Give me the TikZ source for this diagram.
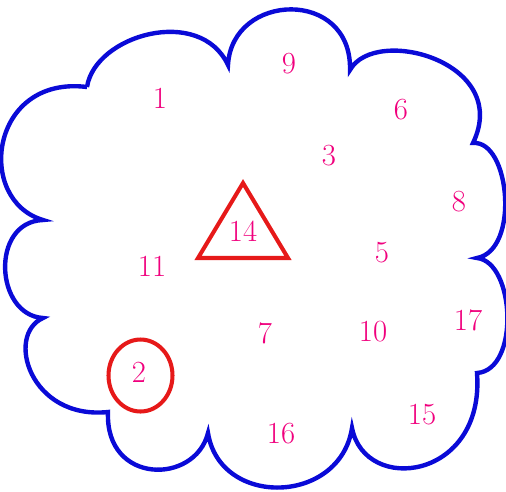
\documentclass[tikz,border=0pt]{standalone}
\usepackage{tikz}
\definecolor{cloudblue}{RGB}{10,10,215}
\definecolor{numpink}{RGB}{240,0,125}
\definecolor{markred}{RGB}{230,25,25}

\begin{document}
\begin{tikzpicture}[
    x=0.02cm, y=-0.02cm,
    num/.style={text=numpink, font=\fontsize{17.5}{20}\selectfont, inner sep=0pt},
    cloud/.style={draw=cloudblue, line width=2.5pt},
    ring/.style={draw=markred, line width=2.3pt}
]
\useasboundingbox (0,0) rectangle (506,491);

% cusps of the cloud
\coordinate (cA) at (87,87);
\coordinate (cB) at (228,65);
\coordinate (cC) at (350,70);
\coordinate (cD) at (473,143);
\coordinate (cE) at (477,258);
\coordinate (cF) at (477,373);
\coordinate (cG) at (352,428);
\coordinate (cH) at (208,433);
\coordinate (cI) at (108,412);
\coordinate (cJ) at (43,318);
\coordinate (cK) at (43,220);

\draw[cloud] (cA) .. controls (95,35) and (200,5) .. (cB)
    .. controls (232,-8) and (352,-12) .. (cC)
    .. controls (375,25) and (512,62) .. (cD)
    .. controls (510,140) and (520,250) .. (cE)
    .. controls (515,262) and (520,370) .. (cF)
    .. controls (485,480) and (365,495) .. (cG)
    .. controls (340,505) and (220,508) .. (cH)
    .. controls (195,485) and (105,485) .. (cI)
    .. controls (30,420) and (5,335) .. (cJ)
    .. controls (-5,315) and (-10,222) .. (cK)
    .. controls (-25,200) and (-10,75) .. (cA);

% numbers
\node[num] (n1) at (160,98) {1};
\node[num] (n9) at (289,64) {9};
\node[num] (n6) at (401,110) {6};
\node[num] (n3) at (329,156) {3};
\node[num] (n8) at (459,202) {8};
\node[num] (n14) at (243,231) {14};
\node[num] (n5) at (382,253) {5};
\node[num] (n11) at (152,266) {11};
\node[num] (n17) at (468,320) {17};
\node[num] (n7) at (265,333) {7};
\node[num] (n10) at (373,332) {10};
\node[num] (n2) at (139,372) {2};
\node[num] (n15) at (422,415) {15};
\node[num] (n16) at (281,434) {16};

% triangle round 14, circle round 2
\coordinate (tTop) at (243,183);
\coordinate (tLeft) at (198,258);
\coordinate (tRight) at (288,258);
\draw[ring, line join=miter] (tTop) -- (tLeft) -- (tRight) -- cycle;
\coordinate (oc) at (140.5,375.5);
\draw[ring] (oc) ellipse [x radius=0.64cm, y radius=0.72cm];
\end{tikzpicture}
\end{document}
